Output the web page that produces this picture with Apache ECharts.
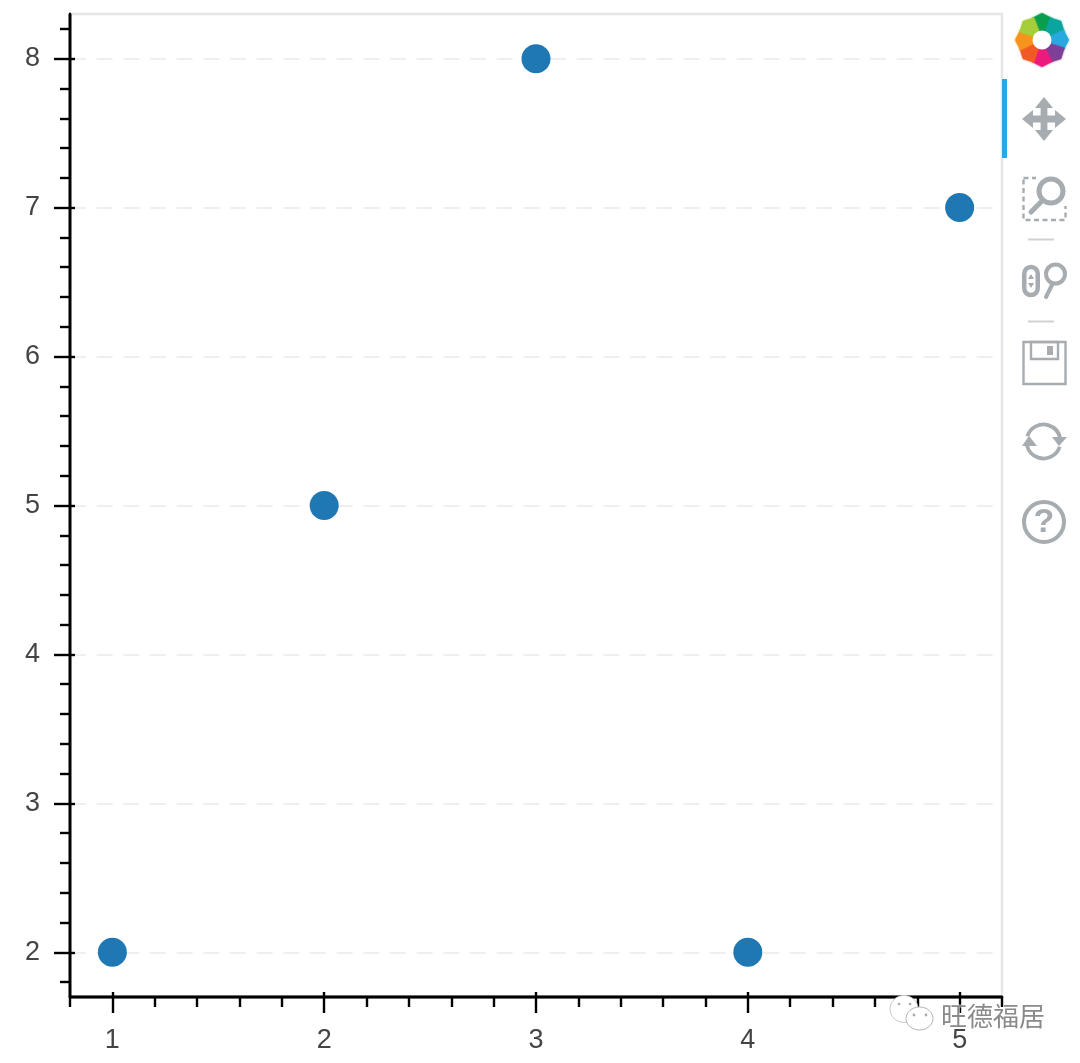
<!DOCTYPE html>
<html><head><meta charset="utf-8">
<style>html,body{margin:0;padding:0;background:#fff}#c{width:1080px;height:1063px}</style>
<script src="https://cdn.jsdelivr.net/npm/echarts@6/dist/echarts.min.js"></script>
</head><body><div id="c"></div>
<script>
const xValues = [1, 2, 3, 4, 5];
const yValues = [2, 5, 8, 2, 7];
const xMajorTicks = [1, 2, 3, 4, 5];
const xMinorTicks = [0.8, 1.2, 1.4, 1.6, 1.8, 2.2, 2.4, 2.6, 2.8, 3.2, 3.4, 3.6, 3.8, 4.2, 4.4, 4.6, 4.8, 5.2];
const yMajorTicks = [2, 3, 4, 5, 6, 7, 8];
const yMinorTicks = [1.8, 2.2, 2.4, 2.6, 2.8, 3.2, 3.4, 3.6, 3.8, 4.2, 4.4, 4.6, 4.8, 5.2, 5.4, 5.6, 5.8, 6.2, 6.4, 6.6, 6.8, 7.2, 7.4, 7.6, 7.8, 8.2];
const xRange = [0.8, 5.2];
const yRange = [1.7, 8.3];
const logoColors = ['#0a9d4e', '#0ba5a0', '#2aa9e0', '#7d3f98', '#ec1a7d', '#f15a24', '#f7941d', '#a6ce39'];

const FONT = '"Liberation Sans", Arial, sans-serif';
const ICON = '#a6acaf';
const hidden = {show: false};

function axis(position, range, extra) {
  return Object.assign({
    type: 'value', position, min: range[0], max: range[1],
    axisLine: {show: true, onZero: false, lineStyle: {color: '#000', width: 2.4}},
    axisLabel: hidden, axisTick: hidden, splitLine: hidden, minorTick: hidden
  }, extra);
}
const tickStyle = {color: '#000', width: 2.4};
function axisSet(position, range, major, minor, labelMargin, gridOn) {
  return [
    axis(position, range, {
      axisLabel: {show: true, customValues: major, margin: labelMargin, color: '#444', fontSize: 27, fontFamily: FONT,
                  formatter: v => String(Math.round(v))},
      axisTick: {show: true, customValues: major, inside: false, length: 16, lineStyle: tickStyle},
      splitLine: gridOn ? {show: true, lineStyle: {color: '#efefef', width: 2, type: [16, 10.67]}} : hidden
    }),
    axis(position, range, {axisTick: {show: true, customValues: major, inside: true, length: 5, lineStyle: tickStyle}}),
    axis(position, range, {axisTick: {show: true, customValues: minor, inside: false, length: 10, lineStyle: tickStyle}})
  ];
}

// toolbar glyphs
function petal(i) {
  const cx = 1042, cy = 40, step = Math.PI / 4, a0 = -Math.PI / 2 + (i - 0.5) * step, a1 = a0 + step;
  const pt = (r, a) => [cx + r * Math.cos(a), cy + r * Math.sin(a)];
  return {type: 'polygon', z: 50, shape: {points: [pt(9, a0), pt(24, a0 - 0.05), pt(27, a0 + step * 0.5), pt(24, a1 + 0.05), pt(9, a1 + 0.1)]},
          style: {fill: logoColors[i], shadowBlur: 2, shadowColor: logoColors[i]}};
}
function panArrow(cx, cy) {
  const t = 22, b = 11, w = 9, s = 3.4, p = [];
  const q = [[0,-t],[w,-b],[s,-b],[s,-s],[b,-s],[b,-w],[t,0],[b,w],[b,s],[s,s],[s,b],[w,b],[0,t],[-w,b],[-s,b],[-s,s],[-b,s],[-b,w],[-t,0],[-b,-w],[-b,-s],[-s,-s],[-s,-b],[-w,-b]];
  q.forEach(d => p.push([cx + d[0], cy + d[1]]));
  return {type: 'polygon', z: 50, shape: {points: p}, style: {fill: ICON}};
}
const stroke = (w, extra) => Object.assign({fill: 'none', stroke: ICON, lineWidth: w}, extra || {});
const line = (x1, y1, x2, y2, w, extra, z) => ({type: 'line', z: z || 50, shape: {x1, y1, x2, y2}, style: stroke(w, extra)});
const circle = (cx, cy, r, w) => ({type: 'circle', z: 50, shape: {cx, cy, r}, style: stroke(w)});
const tri = (pts, fill, z) => ({type: 'polygon', z: z || 50, shape: {points: pts}, style: {fill: fill || ICON}});
const bubble = (cx, cy, rx, ry, col, z) => ({type: 'ellipse', z, shape: {cx, cy, rx, ry}, style: {fill: '#fff', stroke: col, lineWidth: 1}});

const graphics = [
  ...logoColors.map((c, i) => petal(i)),
  {type: 'circle', z: 51, shape: {cx: 1042, cy: 40, r: 9.5}, style: {fill: '#fff'}},
  {type: 'rect', z: 50, shape: {x: 1002, y: 79, width: 5, height: 79}, style: {fill: '#26aae1'}},
  panArrow(1044, 119),
  {type: 'rect', z: 50, shape: {x: 1023.5, y: 178, width: 42, height: 42}, style: stroke(2.4, {lineDash: [5, 3.5]})},
  {type: 'rect', z: 51, shape: {x: 1036, y: 172, width: 32, height: 34}, style: {fill: '#fff'}},
  {type: 'circle', z: 52, shape: {cx: 1051, cy: 191, r: 12}, style: {fill: '#fff', stroke: ICON, lineWidth: 5}},
  line(1042, 201, 1031, 212, 5, {lineCap: 'round'}, 52),
  line(1028, 239.5, 1054, 239.5, 2, {stroke: '#cfd2d3'}),
  {type: 'rect', z: 50, shape: {x: 1024.25, y: 267, width: 13.5, height: 28, r: 6.7}, style: stroke(4.5)},
  tri([[1031, 274], [1034, 279], [1028, 279]]),
  tri([[1031, 288], [1034, 283], [1028, 283]]),
  circle(1055.5, 274, 9.5, 4),
  line(1052, 285, 1046, 297, 4, {lineCap: 'round'}),
  line(1028, 321.5, 1054, 321.5, 2, {stroke: '#cfd2d3'}),
  {type: 'rect', z: 50, shape: {x: 1023.5, y: 342, width: 42, height: 42}, style: stroke(2.4)},
  {type: 'rect', z: 50, shape: {x: 1031, y: 342, width: 27, height: 17}, style: stroke(2.4)},
  {type: 'rect', z: 50, shape: {x: 1047, y: 346, width: 6, height: 9}, style: {fill: ICON}},
  {type: 'arc', z: 50, shape: {cx: 1043.5, cy: 441.5, r: 17, startAngle: Math.PI * 1.1, endAngle: Math.PI * 1.93}, style: stroke(3.8)},
  {type: 'arc', z: 50, shape: {cx: 1043.5, cy: 441.5, r: 17, startAngle: Math.PI * 0.1, endAngle: Math.PI * 0.93}, style: stroke(3.8)},
  tri([[1052, 437], [1067, 437], [1059, 446]]),
  tri([[1022, 446], [1037, 446], [1029, 436]]),
  circle(1044, 522, 20, 4),
  {type: 'text', z: 50, style: {x: 1044, y: 523, text: '?', fill: ICON, font: 'bold 34px ' + FONT, align: 'center', verticalAlign: 'middle'}},
  // watermark
  tri([[893, 1016], [895, 1025], [904, 1021]], '#fff', 59),
  bubble(904, 1009, 14, 13.5, '#c8c8c8', 60),
  tri([[926, 1025], [931, 1032], [920, 1030]], '#fff', 61),
  bubble(919.5, 1018.5, 13.5, 11.5, '#b4b4b4', 61),
  {type: 'circle', z: 62, shape: {cx: 914, cy: 1015, r: 1.4}, style: {fill: '#aaa'}},
  {type: 'circle', z: 62, shape: {cx: 926, cy: 1015, r: 1.4}, style: {fill: '#aaa'}},
  {type: 'circle', z: 60, shape: {cx: 899, cy: 1004, r: 1.3}, style: {fill: '#aaa'}},
  {type: 'circle', z: 60, shape: {cx: 910, cy: 1004, r: 1.3}, style: {fill: '#aaa'}},
  {type: 'text', z: 63, style: {x: 941, y: 1016, text: '旺德福居', fill: '#8a8a8a', stroke: '#fff', lineWidth: 0.6,
      font: '26px "Noto Sans CJK SC"', align: 'left', verticalAlign: 'middle'}}
];

const chart = echarts.init(document.getElementById('c'), null, {renderer: 'canvas'});
chart.setOption({
  animation: false,
  backgroundColor: '#fff',
  grid: {left: 70, right: 78, top: 14, bottom: 66, show: true, borderColor: '#e6e6e6', borderWidth: 2.5, backgroundColor: '#fff'},
  xAxis: axisSet('bottom', xRange, xMajorTicks, xMinorTicks, 30, false),
  yAxis: axisSet('left', yRange, yMajorTicks, yMinorTicks, 30, true),
  series: [{
    type: 'scatter', xAxisIndex: 0, yAxisIndex: 0, symbolSize: 29, z: 10,
    data: xValues.map((x, i) => [x, yValues[i]]),
    itemStyle: {color: '#1f77b4', opacity: 1}
  }],
  graphic: graphics
});
</script></body></html>
